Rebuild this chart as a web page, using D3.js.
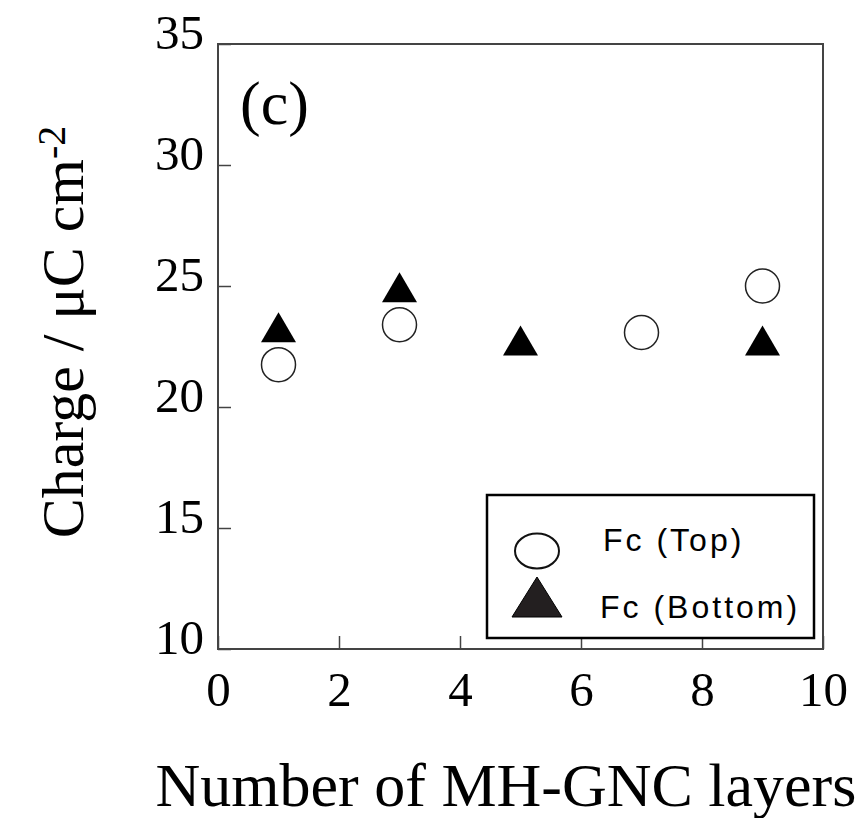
<!DOCTYPE html>
<html lang="en">

<head>
    <meta charset="UTF-8" />
    <script src="https://d3js.org/d3.v7.min.js"></script>
    <title>Charge vs layers</title>
    <style>
        body { margin: 0; background: #fff; }
    </style>
</head>

<body>
    <script>
        const width = 865,
            height = 818

        // data
        const topX = [1, 3, 7, 9]
        const topY = [21.75, 23.4, 23.08, 25.0]
        const bottomX = [1, 3, 5, 9]
        const bottomY = [23.3, 24.95, 22.75, 22.75]
        const xTicks = [0, 2, 4, 6, 8, 10]
        const yTicks = [10, 15, 20, 25, 30, 35]

        const plot = { left: 218, top: 44, w: 605, h: 605 }
        const serif = '"Liberation Serif", "Times New Roman", serif'

        const svg = d3.select('body').append('svg').attr('width', width).attr('height', height)

        const x = d3.scaleLinear().domain([0, 10]).range([plot.left, plot.left + plot.w])
        const y = d3.scaleLinear().domain([10, 35]).range([plot.top + plot.h, plot.top])

        // frame
        svg.append('rect')
            .attr('x', plot.left).attr('y', plot.top)
            .attr('width', plot.w).attr('height', plot.h)
            .attr('fill', 'none').attr('stroke', '#444').attr('stroke-width', 2)

        // axes, ticks pointing inward
        const yAxis = svg.append('g')
            .attr('transform', `translate(${plot.left},0)`)
            .call(d3.axisLeft(y).tickValues(yTicks).tickSizeInner(-13).tickSizeOuter(0).tickPadding(14))
        const xAxis = svg.append('g')
            .attr('transform', `translate(0,${plot.top + plot.h})`)
            .call(d3.axisBottom(x).tickValues(xTicks).tickSizeInner(-13).tickSizeOuter(0).tickPadding(22))

        for (const g of [xAxis, yAxis]) {
            g.select('.domain').remove()
            g.selectAll('line').attr('stroke', '#444').attr('stroke-width', 1.5)
            g.selectAll('text')
                .attr('fill', '#000')
                .style('font-family', serif)
                .style('font-size', '49px')
        }
        yAxis.selectAll('text').attr('dy', '0.1em')

        // axis titles
        svg.append('text')
            .attr('x', 506).attr('y', 806)
            .attr('text-anchor', 'middle')
            .style('font-family', serif)
            .style('font-size', '62px')
            .text('Number of MH-GNC layers')

        const yTitle = svg.append('text')
            .attr('transform', 'translate(83,332) rotate(-90)')
            .attr('text-anchor', 'middle')
            .style('font-family', serif)
            .style('font-size', '60px')
        yTitle.append('tspan').text('Charge / μC cm')
        yTitle.append('tspan').attr('dy', '-0.45em').style('font-size', '40px').text('-2')

        // panel label
        svg.append('text')
            .attr('x', 240).attr('y', 124)
            .style('font-family', serif)
            .style('font-size', '62px')
            .text('(c)')

        // Fc (Top): open circles
        svg.selectAll('circle.top').data(topX).enter()
            .append('circle')
            .attr('class', 'top')
            .attr('cx', d => x(d))
            .attr('cy', (d, i) => y(topY[i]))
            .attr('r', 17)
            .attr('fill', '#fff')
            .attr('stroke', '#222')
            .attr('stroke-width', 1.5)

        // Fc (Bottom): filled triangles
        svg.selectAll('path.bottom').data(bottomX).enter()
            .append('path')
            .attr('class', 'bottom')
            .attr('d', 'M0,-15L17.5,15L-17.5,15Z')
            .attr('transform', (d, i) => `translate(${x(d)},${y(bottomY[i])})`)
            .attr('fill', '#000')

        // legend
        const legend = svg.append('g')
        legend.append('rect')
            .attr('x', 487).attr('y', 495).attr('width', 327).attr('height', 143)
            .attr('fill', '#fff').attr('stroke', '#000').attr('stroke-width', 2.5)
        legend.append('ellipse')
            .attr('cx', 537).attr('cy', 551).attr('rx', 22).attr('ry', 17.5)
            .attr('fill', '#fff').attr('stroke', '#111').attr('stroke-width', 2)
        legend.append('path')
            .attr('d', 'M537,577L562,617L512,617Z')
            .attr('fill', '#231f20').attr('stroke', '#000').attr('stroke-width', 1)
        const legendText = ['Fc (Top)', 'Fc (Bottom)']
        legend.selectAll('text.lg').data(legendText).enter()
            .append('text')
            .attr('class', 'lg')
            .attr('x', (d, i) => i ? 600 : 603)
            .attr('y', (d, i) => i ? 618 : 551)
            .style('font-family', '"Liberation Sans", Arial, sans-serif')
            .style('font-size', '32px')
            .style('letter-spacing', '3px')
            .text(d => d)
    </script>
</body>

</html>
